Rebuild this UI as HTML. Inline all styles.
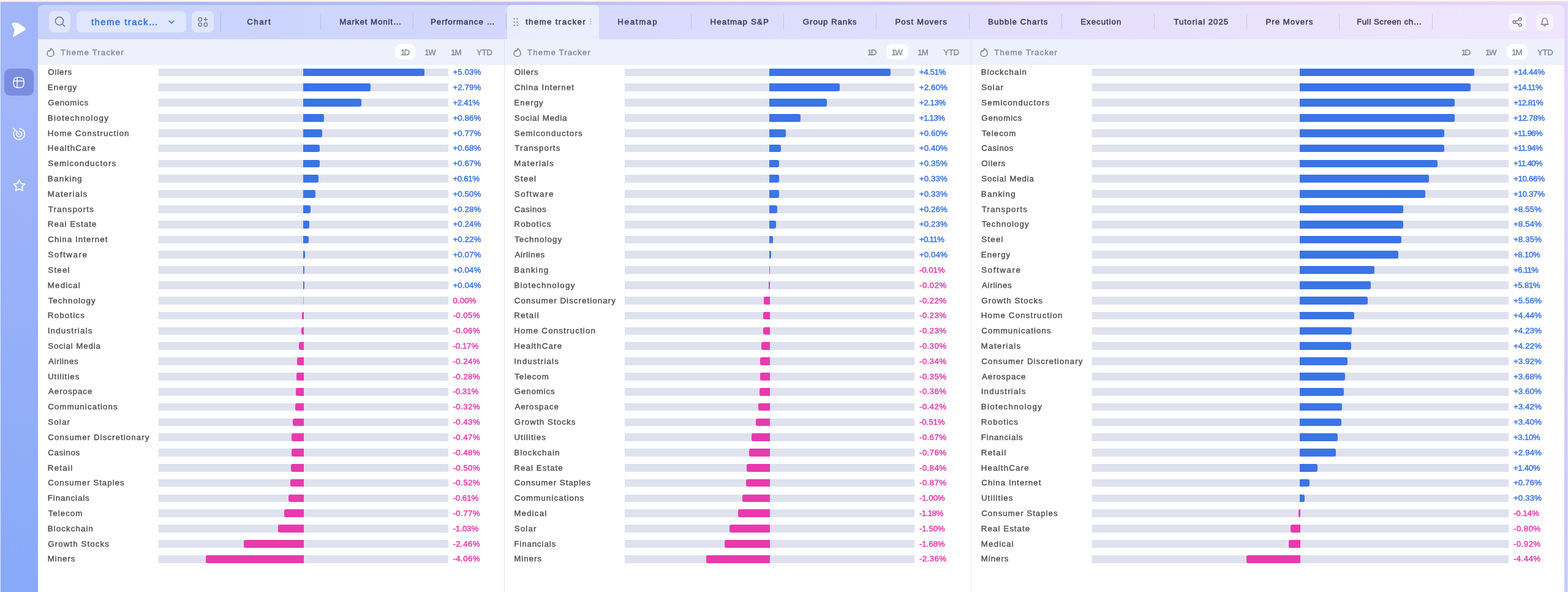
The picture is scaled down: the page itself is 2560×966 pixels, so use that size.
<!DOCTYPE html>
<html lang="en">
<head>
<meta charset="utf-8">
<title>Theme Tracker</title>
<style>
*{box-sizing:border-box;margin:0;padding:0}
html,body{width:2560px;height:966px;overflow:hidden}
body{position:relative;font-family:"Liberation Sans",sans-serif;background:#fff;color:#4c4c4e}
.bg{position:absolute;left:0;top:0;width:2560px;height:966px;background:linear-gradient(90deg,#a1b5fa 0,#a4b6fb 300px,#b4bcfb 800px,#c4c4fc 1220px,#d4cafb 1800px,#e2d3fc 2350px,#e4d5fc 2560px)}
.bgl{position:absolute;left:0;top:0;width:62px;height:966px;background:linear-gradient(180deg,rgba(105,155,246,0) 0,rgba(105,155,246,0) 160px,rgba(105,155,246,.45) 966px)}
.bgr{position:absolute;left:2554px;top:0;width:6px;height:966px;background:linear-gradient(180deg,rgba(175,190,250,0) 0,rgba(175,190,250,0) 120px,rgba(175,190,250,.55) 966px)}
.topstrip{position:absolute;left:0;top:0;width:2560px;height:4px;background:linear-gradient(180deg,#fffaf6 0,#fffaf6 1px,#fcefeb 1px,#fcefeb 2px,#f3dfe1 2px,#f3dfe1 3px,rgba(243,223,225,.3) 3px,rgba(243,223,225,.3) 4px)}
.edgeL{position:absolute;left:0;top:3px;width:1px;height:963px;background:#dfe8ff}
.edgeR{position:absolute;left:2559px;top:3px;width:1px;height:963px;background:#dbe4fe}
.side{position:absolute;left:0;top:0;width:62px;height:966px}
.nav-on{position:absolute;left:7.4px;top:112.4px;width:47.6px;height:43.2px;border-radius:9.5px;background:#7a8ddf}
.ico{position:absolute}
.app{position:absolute;left:61.6px;top:8px;width:2492.7px;height:958px;border-radius:8px 8px 0 0;overflow:hidden}
.pg{position:absolute;left:-61.6px;top:-8px;width:2560px;height:966px}
.bar{position:absolute;left:0;top:8px;width:2560px;height:56px;background:rgba(255,255,255,.41)}
.btn{position:absolute;top:18.1px;height:34.9px;border-radius:8px;background:rgba(255,255,255,.42)}
.btn svg,.rb svg{position:absolute}
.dd{color:#3f77e6;font-weight:400;font-size:14.8px;line-height:36.8px;white-space:nowrap;-webkit-text-stroke:.7px #3f77e6}
.dd span{position:absolute;top:0}
.tabs{position:absolute;left:0;top:0;width:2560px;height:64px}
.tab{position:absolute;top:8px;height:56px;white-space:nowrap;font-weight:400;font-size:13.3px;color:#363c5e;-webkit-text-stroke:.5px #363c5e;line-height:56.6px}
.tab .tl{position:absolute;top:0}
.tab.act{top:8.2px;height:55.8px;border-radius:7px 7px 0 0;background:rgba(240,242,253,.8);line-height:56.2px}
.drag{position:absolute;left:10.8px;top:21px}
.kebab{position:absolute;left:135.6px;top:22.2px}
.sep{position:absolute;top:22.5px;width:1px;height:26.5px;background:rgba(140,140,205,.3)}
.sep.s0{top:20px;height:31px;background:rgba(140,140,205,.4)}
.rb{position:absolute;top:21.6px;width:28.4px;height:28.6px;border-radius:8px;background:rgba(255,255,255,.5)}
.panels{position:absolute;left:0;top:64px;width:2560px;height:902px}
.panel{position:absolute;top:0;height:902px;background:#fff}
.ph{position:absolute;left:0;top:0;width:100%;height:41.6px;background:#eef0fc}
.flame{position:absolute;left:13.6px;top:13.6px}
.pt{position:absolute;top:.5px;line-height:41.5px;font-size:13.3px;font-weight:400;-webkit-text-stroke:.42px #858a9e;color:#858a9e;white-space:nowrap}
.pill{position:absolute;top:7.9px;height:25.3px;border-radius:9px;font-size:13.3px;line-height:27px;color:#80859a;-webkit-text-stroke:.35px #80859a;white-space:nowrap}
.pill b{position:absolute;top:0;font-weight:400}
.pill.on{background:#fff}
.rows{list-style:none;position:absolute;left:0;top:0;width:100%;height:100%}
.r{position:absolute;left:0;width:100%;height:12.7px;list-style:none}
.n{position:absolute;top:-6.4px;line-height:26.3px;font-size:13.3px;font-weight:400;-webkit-text-stroke:.42px #505052;color:#505052;white-space:nowrap}
.t{position:absolute;top:0;height:12.7px;background:#dfe1ee}
.b{position:absolute;top:0;height:12.7px;display:block}
.b.up{background:#3b74e6;border-radius:0 3px 3px 0}
.b.dn{background:#e83aad;border-radius:3px 0 0 3px}
.b.z{opacity:.45;border-radius:0}
.v{position:absolute;top:-6.4px;line-height:25.5px;font-size:13.4px;white-space:nowrap;-webkit-text-stroke:.45px}
.v.up{color:#3b74e6}
.v.dn{color:#e83aad}
.gap{position:absolute;top:0;width:1.5px;height:902px;background:#dae2f9}
.gl{position:absolute;top:41.6px;width:1px;height:818px;background:rgba(205,210,235,.16)}
</style>
</head>
<body>
<div class="bg"></div>
<div class="bgl"></div>
<div class="bgr"></div>
<div class="topstrip"></div>
<div class="edgeL"></div>
<div class="edgeR"></div>
<aside class="side">
<svg class="ico" style="left:0;top:0" viewBox="0 0 62 80" width="62" height="80"><path d="M19.5 40.6C18.6 38.2 20.3 36.4 22.8 36.8L27.5 37.1C29 37.3 30 38 31 38.6L39.6 44.3C42 46 42.3 48 40.5 49.6L23 59.8C21.8 60.5 20.8 59.8 21.2 58.4L23.9 49.8Z" fill="#fff"/><path d="M19.5 40.6C18.6 38.2 20.3 36.4 22.8 36.8L25.6 37L23.9 49.8Z" fill="#a0b4fa" fill-opacity=".22"/></svg>
<div class="nav-on"></div>
<svg class="ico" style="left:21.4px;top:124.6px" viewBox="0 0 20 20" width="19.2" height="19.2"><g fill="none" stroke="#fff" stroke-width="1.5" stroke-linecap="round" stroke-linejoin="round"><path d="M1.2 10c0-6.6 1.4-8.8 8.8-8.8s8.8 2.2 8.8 8.8-1.4 8.8-8.8 8.8S1.2 16.6 1.2 10z"/><path d="M1.5 7.6h17M7.3 1.5v17"/></g></svg>
<svg class="ico" style="left:0;top:200px" viewBox="0 200 62 40" width="62" height="40"><g fill="none" stroke="#fff" stroke-width="1.5" stroke-linecap="round"><path d="M31.83 209.72 A9.00 9.00 0 1 1 23.41 214.20"/><path d="M31.50 214.41 A4.30 4.30 0 1 1 27.16 217.23"/><path d="M21.60 209.00 L31.50 219.00"/></g></svg>
<svg class="ico" style="left:0;top:280px" viewBox="0 280 62 46" width="62" height="46"><path d="M31.40 293.80 L34.28 299.34 L40.44 300.36 L36.06 304.81 L36.98 310.99 L31.40 308.20 L25.82 310.99 L26.74 304.81 L22.36 300.36 L28.52 299.34Z" fill="none" stroke="#fff" stroke-width="1.8" stroke-linejoin="round"/></svg>
</aside>
<div class="app"><div class="pg">
<div class="bar"></div>
<div class="btn" style="left:79.9px;width:35.6px"><svg style="left:9px;top:8px" viewBox="0 0 20 20" width="20" height="20"><g fill="none" stroke="#6f7488" stroke-width="1.5" stroke-linecap="round"><circle cx="8" cy="8.4" r="6.6"/><path d="M12.9 13.3l4 4"/></g></svg></div>
<div class="btn dd" style="left:125px;width:179.4px"><span style="left:23.88px;letter-spacing:1.513px">theme track…</span><svg style="left:150.4px;top:14.6px" viewBox="0 0 10 6" width="10" height="6"><path d="M1 1l4 4 4-4" fill="none" stroke="#3f77e6" stroke-width="1.6" stroke-linecap="round" stroke-linejoin="round"/></svg></div>
<div class="btn" style="left:313px;width:35.8px"><svg style="left:9.6px;top:9.6px" viewBox="0 0 17 16" width="17" height="16"><g fill="none" stroke="#6f7488" stroke-width="1.4" stroke-linecap="round" stroke-linejoin="round"><rect x="1" y="1" width="5.4" height="5.4" rx="1.6"/><rect x="1" y="9.4" width="5.4" height="5.4" rx="2.2"/><rect x="10" y="9.4" width="5.4" height="5.4" rx="2.2"/><path d="M12.7 1v5.4M10 3.7h5.4"/></g></svg></div>
<div class="rb" style="left:2462.6px"><svg style="left:6.2px;top:6.4px" viewBox="0 0 17 16" width="17" height="16"><g fill="none" stroke="#6f7488" stroke-width="1.4"><circle cx="3.2" cy="8" r="2.2"/><circle cx="12.8" cy="3.2" r="2.2"/><circle cx="12.8" cy="12.8" r="2.2"/><path d="M5.2 7l5.6-2.8M5.2 9l5.6 2.8"/></g></svg></div>
<div class="rb" style="left:2508px"><svg style="left:7.4px;top:6.4px" viewBox="0 0 14 16" width="14" height="16"><g fill="none" stroke="#6f7488" stroke-width="1.4" stroke-linecap="round" stroke-linejoin="round"><path d="M1.2 11.8c1.2-1 1.6-2.4 1.6-4.6 0-3 1.6-5.6 4.2-5.6s4.2 2.600000000000001 4.2 5.600000000000001c0 2.2.4 3.6 1.6 4.6z"/><path d="M5.6 13.4a1.5 1.5 0 0 0 2.8 0"/></g></svg></div>

<nav class="tabs">
<div class="tab" style="left:372.56px;width:151.19px"><span class="tl" style="left:30.77px;letter-spacing:1.453px">Chart</span></div>
<div class="tab" style="left:523.75px;width:151.19px"><span class="tl" style="left:30.44px;letter-spacing:0.911px">Market Monit…</span></div>
<div class="tab" style="left:674.94px;width:151.19px"><span class="tl" style="left:28.00px;letter-spacing:0.974px">Performance …</span></div>
<div class="tab act" style="left:827.50px;width:150.60px"><svg class="drag" viewBox="0 0 8 14" width="8" height="14"><g fill="#6f7590"><circle cx="1.6" cy="1.6" r="1.1"/><circle cx="6.4" cy="1.6" r="1.1"/><circle cx="1.6" cy="7" r="1.1"/><circle cx="6.4" cy="7" r="1.1"/><circle cx="1.6" cy="12.4" r="1.1"/><circle cx="6.4" cy="12.4" r="1.1"/></g></svg><span class="tl" style="left:30.55px;letter-spacing:1.353px">theme tracker</span><svg class="kebab" viewBox="0 0 3 10" width="3" height="10"><g fill="#9aa0b8"><circle cx="1.5" cy="1.2" r="0.9"/><circle cx="1.5" cy="5" r="0.9"/><circle cx="1.5" cy="8.8" r="0.9"/></g></svg></div>
<div class="tab" style="left:977.32px;width:151.19px"><span class="tl" style="left:30.87px;letter-spacing:1.736px">Heatmap</span></div>
<div class="tab" style="left:1128.51px;width:151.19px"><span class="tl" style="left:30.93px;letter-spacing:1.107px">Heatmap S&amp;P</span></div>
<div class="tab" style="left:1279.70px;width:151.19px"><span class="tl" style="left:31.13px;letter-spacing:0.919px">Group Ranks</span></div>
<div class="tab" style="left:1430.89px;width:151.19px"><span class="tl" style="left:30.55px;letter-spacing:1.055px">Post Movers</span></div>
<div class="tab" style="left:1582.08px;width:151.19px"><span class="tl" style="left:30.86px;letter-spacing:1.106px">Bubble Charts</span></div>
<div class="tab" style="left:1733.27px;width:151.19px"><span class="tl" style="left:30.92px;letter-spacing:0.974px">Execution</span></div>
<div class="tab" style="left:1884.46px;width:151.19px"><span class="tl" style="left:32.02px;letter-spacing:0.971px">Tutorial 2025</span></div>
<div class="tab" style="left:2035.65px;width:151.19px"><span class="tl" style="left:30.79px;letter-spacing:0.989px">Pre Movers</span></div>
<div class="tab" style="left:2186.84px;width:151.19px"><span class="tl" style="left:28.35px;letter-spacing:0.534px">Full Screen ch…</span></div>
<i class="sep" style="left:523.25px"></i>
<i class="sep" style="left:674.44px"></i>
<i class="sep" style="left:825.63px"></i>
<i class="sep" style="left:1128.01px"></i>
<i class="sep" style="left:1279.20px"></i>
<i class="sep" style="left:1430.39px"></i>
<i class="sep" style="left:1581.58px"></i>
<i class="sep" style="left:1732.77px"></i>
<i class="sep" style="left:1883.96px"></i>
<i class="sep" style="left:2035.15px"></i>
<i class="sep" style="left:2186.34px"></i>
<i class="sep" style="left:2337.53px"></i>
<i class="sep s0" style="left:360.1px"></i>
</nav>
<main class="panels">
<section class="panel" style="left:62.00px;width:760.60px">
<header class="ph"><svg class="flame" viewBox="2.6 1.4 18.8 21.8" width="13" height="15"><path d="M12.6 2.6c.6 2.6-.6 4.3-2.1 5.9C8.9 10.200000000000001 7.6 9.1 7.4 7.7 5.2 9.9 4 12.4 4 14.7 4 18.9 7.6 22 12 22s8-3.1 8-7.3c0-4.9-3.300000000000001-9-7.4-12.1z" fill="none" stroke="#7e8499" stroke-width="2.3" stroke-linejoin="round"/></svg><h2 class="pt" style="left:37.04px;letter-spacing:1.097px">Theme Tracker</h2>
<nav class="tf">
<span class="pill on" style="left:583.20px;width:32.40px"><b style="left:8.78px;letter-spacing:-1.912px">1D</b></span>
<span class="pill" style="left:623.10px;width:35.50px"><b style="left:8.08px;letter-spacing:-1.436px">1W</b></span>
<span class="pill" style="left:665.60px;width:34.25px"><b style="left:8.38px;letter-spacing:-0.909px">1M</b></span>
<span class="pill" style="left:707.00px;width:43.60px"><b style="left:9.04px;letter-spacing:-0.410px">YTD</b></span>
</nav></header>
<i class="gl" style="left:196.40px"></i>
<ul class="rows">
<li class="r" style="top:47.65px"><span class="n" style="left:16.31px;letter-spacing:0.826px">Oilers</span><span class="t" style="left:196.60px;width:473.10px"></span><i class="b up" style="left:432.65px;width:198.12px"></i><span class="v up" style="left:677.45px;letter-spacing:0.057px">+5.03%</span></li>
<li class="r" style="top:72.47px"><span class="n" style="left:15.85px;letter-spacing:1.057px">Energy</span><span class="t" style="left:196.60px;width:473.10px"></span><i class="b up" style="left:432.65px;width:110.34px"></i><span class="v up" style="left:677.45px;letter-spacing:0.057px">+2.79%</span></li>
<li class="r" style="top:97.29px"><span class="n" style="left:16.25px;letter-spacing:0.880px">Genomics</span><span class="t" style="left:196.60px;width:473.10px"></span><i class="b up" style="left:432.65px;width:95.45px"></i><span class="v up" style="left:677.45px;letter-spacing:-0.423px">+2.41%</span></li>
<li class="r" style="top:122.11px"><span class="n" style="left:15.85px;letter-spacing:1.285px">Biotechnology</span><span class="t" style="left:196.60px;width:473.10px"></span><i class="b up" style="left:432.65px;width:34.70px"></i><span class="v up" style="left:677.45px;letter-spacing:0.057px">+0.86%</span></li>
<li class="r" style="top:146.93px"><span class="n" style="left:15.85px;letter-spacing:1.173px">Home Construction</span><span class="t" style="left:196.60px;width:473.10px"></span><i class="b up" style="left:432.65px;width:31.18px"></i><span class="v up" style="left:677.45px;letter-spacing:0.057px">+0.77%</span></li>
<li class="r" style="top:171.75px"><span class="n" style="left:15.85px;letter-spacing:1.168px">HealthCare</span><span class="t" style="left:196.60px;width:473.10px"></span><i class="b up" style="left:432.65px;width:27.65px"></i><span class="v up" style="left:677.45px;letter-spacing:0.057px">+0.68%</span></li>
<li class="r" style="top:196.57px"><span class="n" style="left:16.31px;letter-spacing:1.199px">Semiconductors</span><span class="t" style="left:196.60px;width:473.10px"></span><i class="b up" style="left:432.65px;width:27.26px"></i><span class="v up" style="left:677.45px;letter-spacing:0.057px">+0.67%</span></li>
<li class="r" style="top:221.39px"><span class="n" style="left:15.85px;letter-spacing:1.305px">Banking</span><span class="t" style="left:196.60px;width:473.10px"></span><i class="b up" style="left:432.65px;width:24.91px"></i><span class="v up" style="left:677.45px;letter-spacing:-0.423px">+0.61%</span></li>
<li class="r" style="top:246.21px"><span class="n" style="left:15.85px;letter-spacing:1.310px">Materials</span><span class="t" style="left:196.60px;width:473.10px"></span><i class="b up" style="left:432.65px;width:20.59px"></i><span class="v up" style="left:677.45px;letter-spacing:0.057px">+0.50%</span></li>
<li class="r" style="top:271.03px"><span class="n" style="left:16.64px;letter-spacing:1.252px">Transports</span><span class="t" style="left:196.60px;width:473.10px"></span><i class="b up" style="left:432.65px;width:11.97px"></i><span class="v up" style="left:677.45px;letter-spacing:0.057px">+0.28%</span></li>
<li class="r" style="top:295.85px"><span class="n" style="left:15.85px;letter-spacing:1.068px">Real Estate</span><span class="t" style="left:196.60px;width:473.10px"></span><i class="b up" style="left:432.65px;width:10.41px"></i><span class="v up" style="left:677.45px;letter-spacing:0.057px">+0.24%</span></li>
<li class="r" style="top:320.67px"><span class="n" style="left:16.25px;letter-spacing:1.045px">China Internet</span><span class="t" style="left:196.60px;width:473.10px"></span><i class="b up" style="left:432.65px;width:9.62px"></i><span class="v up" style="left:677.45px;letter-spacing:0.057px">+0.22%</span></li>
<li class="r" style="top:345.49px"><span class="n" style="left:16.31px;letter-spacing:1.601px">Software</span><span class="t" style="left:196.60px;width:473.10px"></span><i class="b up" style="left:432.65px;width:3.74px"></i><span class="v up" style="left:677.45px;letter-spacing:0.057px">+0.07%</span></li>
<li class="r" style="top:370.31px"><span class="n" style="left:16.31px;letter-spacing:1.221px">Steel</span><span class="t" style="left:196.60px;width:473.10px"></span><i class="b up" style="left:432.65px;width:2.57px"></i><span class="v up" style="left:677.45px;letter-spacing:0.057px">+0.04%</span></li>
<li class="r" style="top:395.13px"><span class="n" style="left:15.85px;letter-spacing:1.165px">Medical</span><span class="t" style="left:196.60px;width:473.10px"></span><i class="b up" style="left:432.65px;width:2.57px"></i><span class="v up" style="left:677.45px;letter-spacing:0.057px">+0.04%</span></li>
<li class="r" style="top:419.95px"><span class="n" style="left:16.64px;letter-spacing:1.072px">Technology</span><span class="t" style="left:196.60px;width:473.10px"></span><i class="b dn z" style="left:433.15px;width:1px"></i><span class="v dn" style="left:677.59px;letter-spacing:0.056px">0.00%</span></li>
<li class="r" style="top:444.77px"><span class="n" style="left:15.85px;letter-spacing:1.182px">Robotics</span><span class="t" style="left:196.60px;width:473.10px"></span><i class="b dn" style="left:430.69px;width:2.96px"></i><span class="v dn" style="left:677.52px;letter-spacing:0.352px">-0.05%</span></li>
<li class="r" style="top:469.59px"><span class="n" style="left:15.71px;letter-spacing:1.209px">Industrials</span><span class="t" style="left:196.60px;width:473.10px"></span><i class="b dn" style="left:430.30px;width:3.35px"></i><span class="v dn" style="left:677.52px;letter-spacing:0.352px">-0.06%</span></li>
<li class="r" style="top:494.41px"><span class="n" style="left:16.31px;letter-spacing:0.858px">Social Media</span><span class="t" style="left:196.60px;width:473.10px"></span><i class="b dn" style="left:425.99px;width:7.66px"></i><span class="v dn" style="left:677.52px;letter-spacing:-0.128px">-0.17%</span></li>
<li class="r" style="top:519.23px"><span class="n" style="left:16.91px;letter-spacing:0.746px">Airlines</span><span class="t" style="left:196.60px;width:473.10px"></span><i class="b dn" style="left:423.24px;width:10.41px"></i><span class="v dn" style="left:677.52px;letter-spacing:0.352px">-0.24%</span></li>
<li class="r" style="top:544.05px"><span class="n" style="left:15.91px;letter-spacing:1.094px">Utilities</span><span class="t" style="left:196.60px;width:473.10px"></span><i class="b dn" style="left:421.68px;width:11.97px"></i><span class="v dn" style="left:677.52px;letter-spacing:0.352px">-0.28%</span></li>
<li class="r" style="top:568.87px"><span class="n" style="left:16.91px;letter-spacing:0.988px">Aerospace</span><span class="t" style="left:196.60px;width:473.10px"></span><i class="b dn" style="left:420.50px;width:13.15px"></i><span class="v dn" style="left:677.52px;letter-spacing:-0.128px">-0.31%</span></li>
<li class="r" style="top:593.69px"><span class="n" style="left:16.25px;letter-spacing:1.110px">Communications</span><span class="t" style="left:196.60px;width:473.10px"></span><i class="b dn" style="left:420.11px;width:13.54px"></i><span class="v dn" style="left:677.52px;letter-spacing:0.352px">-0.32%</span></li>
<li class="r" style="top:618.51px"><span class="n" style="left:16.31px;letter-spacing:1.122px">Solar</span><span class="t" style="left:196.60px;width:473.10px"></span><i class="b dn" style="left:415.80px;width:17.85px"></i><span class="v dn" style="left:677.52px;letter-spacing:0.352px">-0.43%</span></li>
<li class="r" style="top:643.33px"><span class="n" style="left:16.25px;letter-spacing:1.072px">Consumer Discretionary</span><span class="t" style="left:196.60px;width:473.10px"></span><i class="b dn" style="left:414.23px;width:19.42px"></i><span class="v dn" style="left:677.52px;letter-spacing:0.352px">-0.47%</span></li>
<li class="r" style="top:668.15px"><span class="n" style="left:16.25px;letter-spacing:0.655px">Casinos</span><span class="t" style="left:196.60px;width:473.10px"></span><i class="b dn" style="left:413.84px;width:19.81px"></i><span class="v dn" style="left:677.52px;letter-spacing:0.352px">-0.48%</span></li>
<li class="r" style="top:692.97px"><span class="n" style="left:15.85px;letter-spacing:1.265px">Retail</span><span class="t" style="left:196.60px;width:473.10px"></span><i class="b dn" style="left:413.06px;width:20.59px"></i><span class="v dn" style="left:677.52px;letter-spacing:0.352px">-0.50%</span></li>
<li class="r" style="top:717.79px"><span class="n" style="left:16.25px;letter-spacing:1.001px">Consumer Staples</span><span class="t" style="left:196.60px;width:473.10px"></span><i class="b dn" style="left:412.27px;width:21.38px"></i><span class="v dn" style="left:677.52px;letter-spacing:0.352px">-0.52%</span></li>
<li class="r" style="top:742.61px"><span class="n" style="left:15.85px;letter-spacing:0.895px">Financials</span><span class="t" style="left:196.60px;width:473.10px"></span><i class="b dn" style="left:408.74px;width:24.91px"></i><span class="v dn" style="left:677.52px;letter-spacing:-0.128px">-0.61%</span></li>
<li class="r" style="top:767.43px"><span class="n" style="left:16.64px;letter-spacing:1.028px">Telecom</span><span class="t" style="left:196.60px;width:473.10px"></span><i class="b dn" style="left:402.47px;width:31.18px"></i><span class="v dn" style="left:677.52px;letter-spacing:0.352px">-0.77%</span></li>
<li class="r" style="top:792.25px"><span class="n" style="left:15.85px;letter-spacing:1.089px">Blockchain</span><span class="t" style="left:196.60px;width:473.10px"></span><i class="b dn" style="left:392.28px;width:41.37px"></i><span class="v dn" style="left:677.52px;letter-spacing:-0.128px">-1.03%</span></li>
<li class="r" style="top:817.07px"><span class="n" style="left:16.25px;letter-spacing:1.097px">Growth Stocks</span><span class="t" style="left:196.60px;width:473.10px"></span><i class="b dn" style="left:336.24px;width:97.41px"></i><span class="v dn" style="left:677.52px;letter-spacing:0.352px">-2.46%</span></li>
<li class="r" style="top:841.89px"><span class="n" style="left:15.85px;letter-spacing:0.942px">Miners</span><span class="t" style="left:196.60px;width:473.10px"></span><i class="b dn" style="left:273.54px;width:160.11px"></i><span class="v dn" style="left:677.52px;letter-spacing:0.352px">-4.06%</span></li>
</ul></section>
<i class="gap" style="left:822.6px"></i>
<section class="panel" style="left:824.00px;width:760.80px">
<header class="ph"><svg class="flame" viewBox="2.6 1.4 18.8 21.8" width="13" height="15"><path d="M12.6 2.6c.6 2.6-.6 4.3-2.1 5.9C8.9 10.200000000000001 7.6 9.1 7.4 7.7 5.2 9.9 4 12.4 4 14.7 4 18.9 7.6 22 12 22s8-3.1 8-7.3c0-4.9-3.300000000000001-9-7.4-12.1z" fill="none" stroke="#7e8499" stroke-width="2.3" stroke-linejoin="round"/></svg><h2 class="pt" style="left:37.04px;letter-spacing:1.097px">Theme Tracker</h2>
<nav class="tf">
<span class="pill" style="left:583.40px;width:32.40px"><b style="left:8.78px;letter-spacing:-1.912px">1D</b></span>
<span class="pill on" style="left:623.30px;width:35.50px"><b style="left:8.08px;letter-spacing:-1.436px">1W</b></span>
<span class="pill" style="left:665.80px;width:34.25px"><b style="left:8.38px;letter-spacing:-0.909px">1M</b></span>
<span class="pill" style="left:707.20px;width:43.60px"><b style="left:9.04px;letter-spacing:-0.410px">YTD</b></span>
</nav></header>
<i class="gl" style="left:196.00px"></i>
<ul class="rows">
<li class="r" style="top:47.65px"><span class="n" style="left:15.81px;letter-spacing:0.826px">Oilers</span><span class="t" style="left:196.20px;width:472.90px"></span><i class="b up" style="left:432.15px;width:198.04px"></i><span class="v up" style="left:676.85px;letter-spacing:-0.423px">+4.51%</span></li>
<li class="r" style="top:72.47px"><span class="n" style="left:15.75px;letter-spacing:1.045px">China Internet</span><span class="t" style="left:196.20px;width:472.90px"></span><i class="b up" style="left:432.15px;width:114.59px"></i><span class="v up" style="left:676.85px;letter-spacing:0.057px">+2.60%</span></li>
<li class="r" style="top:97.29px"><span class="n" style="left:15.35px;letter-spacing:1.057px">Energy</span><span class="t" style="left:196.20px;width:472.90px"></span><i class="b up" style="left:432.15px;width:94.06px"></i><span class="v up" style="left:676.85px;letter-spacing:-0.423px">+2.13%</span></li>
<li class="r" style="top:122.11px"><span class="n" style="left:15.81px;letter-spacing:0.858px">Social Media</span><span class="t" style="left:196.20px;width:472.90px"></span><i class="b up" style="left:432.15px;width:50.37px"></i><span class="v up" style="left:676.85px;letter-spacing:-0.750px">+1.13%</span></li>
<li class="r" style="top:146.93px"><span class="n" style="left:15.81px;letter-spacing:1.199px">Semiconductors</span><span class="t" style="left:196.20px;width:472.90px"></span><i class="b up" style="left:432.15px;width:27.21px"></i><span class="v up" style="left:676.85px;letter-spacing:0.057px">+0.60%</span></li>
<li class="r" style="top:171.75px"><span class="n" style="left:16.14px;letter-spacing:1.252px">Transports</span><span class="t" style="left:196.20px;width:472.90px"></span><i class="b up" style="left:432.15px;width:18.48px"></i><span class="v up" style="left:676.85px;letter-spacing:0.057px">+0.40%</span></li>
<li class="r" style="top:196.57px"><span class="n" style="left:15.35px;letter-spacing:1.310px">Materials</span><span class="t" style="left:196.20px;width:472.90px"></span><i class="b up" style="left:432.15px;width:16.29px"></i><span class="v up" style="left:676.85px;letter-spacing:0.057px">+0.35%</span></li>
<li class="r" style="top:221.39px"><span class="n" style="left:15.81px;letter-spacing:1.221px">Steel</span><span class="t" style="left:196.20px;width:472.90px"></span><i class="b up" style="left:432.15px;width:15.42px"></i><span class="v up" style="left:676.85px;letter-spacing:0.057px">+0.33%</span></li>
<li class="r" style="top:246.21px"><span class="n" style="left:15.81px;letter-spacing:1.601px">Software</span><span class="t" style="left:196.20px;width:472.90px"></span><i class="b up" style="left:432.15px;width:15.42px"></i><span class="v up" style="left:676.85px;letter-spacing:0.057px">+0.33%</span></li>
<li class="r" style="top:271.03px"><span class="n" style="left:15.75px;letter-spacing:0.655px">Casinos</span><span class="t" style="left:196.20px;width:472.90px"></span><i class="b up" style="left:432.15px;width:12.36px"></i><span class="v up" style="left:676.85px;letter-spacing:0.057px">+0.26%</span></li>
<li class="r" style="top:295.85px"><span class="n" style="left:15.35px;letter-spacing:1.182px">Robotics</span><span class="t" style="left:196.20px;width:472.90px"></span><i class="b up" style="left:432.15px;width:11.05px"></i><span class="v up" style="left:676.85px;letter-spacing:0.057px">+0.23%</span></li>
<li class="r" style="top:320.67px"><span class="n" style="left:16.14px;letter-spacing:1.072px">Technology</span><span class="t" style="left:196.20px;width:472.90px"></span><i class="b up" style="left:432.15px;width:5.81px"></i><span class="v up" style="left:676.85px;letter-spacing:-0.750px">+0.11%</span></li>
<li class="r" style="top:345.49px"><span class="n" style="left:16.41px;letter-spacing:0.746px">Airlines</span><span class="t" style="left:196.20px;width:472.90px"></span><i class="b up" style="left:432.15px;width:2.75px"></i><span class="v up" style="left:676.85px;letter-spacing:0.057px">+0.04%</span></li>
<li class="r" style="top:370.31px"><span class="n" style="left:15.35px;letter-spacing:1.305px">Banking</span><span class="t" style="left:196.20px;width:472.90px"></span><i class="b dn" style="left:431.71px;width:1.44px"></i><span class="v dn" style="left:676.92px;letter-spacing:-0.128px">-0.01%</span></li>
<li class="r" style="top:395.13px"><span class="n" style="left:15.35px;letter-spacing:1.285px">Biotechnology</span><span class="t" style="left:196.20px;width:472.90px"></span><i class="b dn" style="left:431.28px;width:1.87px"></i><span class="v dn" style="left:676.92px;letter-spacing:0.352px">-0.02%</span></li>
<li class="r" style="top:419.95px"><span class="n" style="left:15.75px;letter-spacing:1.072px">Consumer Discretionary</span><span class="t" style="left:196.20px;width:472.90px"></span><i class="b dn" style="left:422.54px;width:10.61px"></i><span class="v dn" style="left:676.92px;letter-spacing:0.352px">-0.22%</span></li>
<li class="r" style="top:444.77px"><span class="n" style="left:15.35px;letter-spacing:1.265px">Retail</span><span class="t" style="left:196.20px;width:472.90px"></span><i class="b dn" style="left:422.10px;width:11.05px"></i><span class="v dn" style="left:676.92px;letter-spacing:0.352px">-0.23%</span></li>
<li class="r" style="top:469.59px"><span class="n" style="left:15.35px;letter-spacing:1.173px">Home Construction</span><span class="t" style="left:196.20px;width:472.90px"></span><i class="b dn" style="left:422.10px;width:11.05px"></i><span class="v dn" style="left:676.92px;letter-spacing:0.352px">-0.23%</span></li>
<li class="r" style="top:494.41px"><span class="n" style="left:15.35px;letter-spacing:1.168px">HealthCare</span><span class="t" style="left:196.20px;width:472.90px"></span><i class="b dn" style="left:419.04px;width:14.11px"></i><span class="v dn" style="left:676.92px;letter-spacing:0.352px">-0.30%</span></li>
<li class="r" style="top:519.23px"><span class="n" style="left:15.21px;letter-spacing:1.209px">Industrials</span><span class="t" style="left:196.20px;width:472.90px"></span><i class="b dn" style="left:417.30px;width:15.85px"></i><span class="v dn" style="left:676.92px;letter-spacing:0.352px">-0.34%</span></li>
<li class="r" style="top:544.05px"><span class="n" style="left:16.14px;letter-spacing:1.028px">Telecom</span><span class="t" style="left:196.20px;width:472.90px"></span><i class="b dn" style="left:416.86px;width:16.29px"></i><span class="v dn" style="left:676.92px;letter-spacing:0.352px">-0.35%</span></li>
<li class="r" style="top:568.87px"><span class="n" style="left:15.75px;letter-spacing:0.880px">Genomics</span><span class="t" style="left:196.20px;width:472.90px"></span><i class="b dn" style="left:416.42px;width:16.73px"></i><span class="v dn" style="left:676.92px;letter-spacing:0.352px">-0.36%</span></li>
<li class="r" style="top:593.69px"><span class="n" style="left:16.41px;letter-spacing:0.988px">Aerospace</span><span class="t" style="left:196.20px;width:472.90px"></span><i class="b dn" style="left:413.80px;width:19.35px"></i><span class="v dn" style="left:676.92px;letter-spacing:0.352px">-0.42%</span></li>
<li class="r" style="top:618.51px"><span class="n" style="left:15.75px;letter-spacing:1.097px">Growth Stocks</span><span class="t" style="left:196.20px;width:472.90px"></span><i class="b dn" style="left:409.87px;width:23.28px"></i><span class="v dn" style="left:676.92px;letter-spacing:-0.128px">-0.51%</span></li>
<li class="r" style="top:643.33px"><span class="n" style="left:15.41px;letter-spacing:1.094px">Utilities</span><span class="t" style="left:196.20px;width:472.90px"></span><i class="b dn" style="left:402.88px;width:30.27px"></i><span class="v dn" style="left:676.92px;letter-spacing:0.352px">-0.67%</span></li>
<li class="r" style="top:668.15px"><span class="n" style="left:15.35px;letter-spacing:1.089px">Blockchain</span><span class="t" style="left:196.20px;width:472.90px"></span><i class="b dn" style="left:398.95px;width:34.20px"></i><span class="v dn" style="left:676.92px;letter-spacing:0.352px">-0.76%</span></li>
<li class="r" style="top:692.97px"><span class="n" style="left:15.35px;letter-spacing:1.068px">Real Estate</span><span class="t" style="left:196.20px;width:472.90px"></span><i class="b dn" style="left:395.45px;width:37.70px"></i><span class="v dn" style="left:676.92px;letter-spacing:0.352px">-0.84%</span></li>
<li class="r" style="top:717.79px"><span class="n" style="left:15.75px;letter-spacing:1.001px">Consumer Staples</span><span class="t" style="left:196.20px;width:472.90px"></span><i class="b dn" style="left:394.14px;width:39.01px"></i><span class="v dn" style="left:676.92px;letter-spacing:0.352px">-0.87%</span></li>
<li class="r" style="top:742.61px"><span class="n" style="left:15.75px;letter-spacing:1.110px">Communications</span><span class="t" style="left:196.20px;width:472.90px"></span><i class="b dn" style="left:388.46px;width:44.69px"></i><span class="v dn" style="left:676.92px;letter-spacing:-0.128px">-1.00%</span></li>
<li class="r" style="top:767.43px"><span class="n" style="left:15.35px;letter-spacing:1.165px">Medical</span><span class="t" style="left:196.20px;width:472.90px"></span><i class="b dn" style="left:380.60px;width:52.55px"></i><span class="v dn" style="left:676.92px;letter-spacing:-0.608px">-1.18%</span></li>
<li class="r" style="top:792.25px"><span class="n" style="left:15.81px;letter-spacing:1.122px">Solar</span><span class="t" style="left:196.20px;width:472.90px"></span><i class="b dn" style="left:366.62px;width:66.53px"></i><span class="v dn" style="left:676.92px;letter-spacing:-0.128px">-1.50%</span></li>
<li class="r" style="top:817.07px"><span class="n" style="left:15.35px;letter-spacing:0.895px">Financials</span><span class="t" style="left:196.20px;width:472.90px"></span><i class="b dn" style="left:358.75px;width:74.40px"></i><span class="v dn" style="left:676.92px;letter-spacing:-0.128px">-1.68%</span></li>
<li class="r" style="top:841.89px"><span class="n" style="left:15.35px;letter-spacing:0.942px">Miners</span><span class="t" style="left:196.20px;width:472.90px"></span><i class="b dn" style="left:329.04px;width:104.11px"></i><span class="v dn" style="left:676.92px;letter-spacing:0.352px">-2.36%</span></li>
</ul></section>
<i class="gap" style="left:1584.8px"></i>
<section class="panel" style="left:1586.20px;width:968.40px">
<header class="ph"><svg class="flame" viewBox="2.6 1.4 18.8 21.8" width="13" height="15"><path d="M12.6 2.6c.6 2.6-.6 4.3-2.1 5.9C8.9 10.200000000000001 7.6 9.1 7.4 7.7 5.2 9.9 4 12.4 4 14.7 4 18.9 7.6 22 12 22s8-3.1 8-7.3c0-4.9-3.300000000000001-9-7.4-12.1z" fill="none" stroke="#7e8499" stroke-width="2.3" stroke-linejoin="round"/></svg><h2 class="pt" style="left:37.04px;letter-spacing:1.097px">Theme Tracker</h2>
<nav class="tf">
<span class="pill" style="left:791.00px;width:32.40px"><b style="left:8.78px;letter-spacing:-1.912px">1D</b></span>
<span class="pill" style="left:830.90px;width:35.50px"><b style="left:8.08px;letter-spacing:-1.436px">1W</b></span>
<span class="pill on" style="left:873.40px;width:34.25px"><b style="left:8.38px;letter-spacing:-0.909px">1M</b></span>
<span class="pill" style="left:914.80px;width:43.60px"><b style="left:9.04px;letter-spacing:-0.410px">YTD</b></span>
</nav></header>
<i class="gl" style="left:196.20px"></i>
<ul class="rows">
<li class="r" style="top:47.65px"><span class="n" style="left:15.65px;letter-spacing:1.089px">Blockchain</span><span class="t" style="left:196.40px;width:680.80px"></span><i class="b up" style="left:536.30px;width:284.67px"></i><span class="v up" style="left:884.75px;letter-spacing:-0.344px">+14.44%</span></li>
<li class="r" style="top:72.47px"><span class="n" style="left:16.11px;letter-spacing:1.122px">Solar</span><span class="t" style="left:196.40px;width:680.80px"></span><i class="b up" style="left:536.30px;width:278.18px"></i><span class="v up" style="left:884.75px;letter-spacing:-0.750px">+14.11%</span></li>
<li class="r" style="top:97.29px"><span class="n" style="left:16.11px;letter-spacing:1.199px">Semiconductors</span><span class="t" style="left:196.40px;width:680.80px"></span><i class="b up" style="left:536.30px;width:252.65px"></i><span class="v up" style="left:884.75px;letter-spacing:-0.744px">+12.81%</span></li>
<li class="r" style="top:122.11px"><span class="n" style="left:16.05px;letter-spacing:0.880px">Genomics</span><span class="t" style="left:196.40px;width:680.80px"></span><i class="b up" style="left:536.30px;width:252.06px"></i><span class="v up" style="left:884.75px;letter-spacing:-0.344px">+12.78%</span></li>
<li class="r" style="top:146.93px"><span class="n" style="left:16.44px;letter-spacing:1.028px">Telecom</span><span class="t" style="left:196.40px;width:680.80px"></span><i class="b up" style="left:536.30px;width:235.95px"></i><span class="v up" style="left:884.75px;letter-spacing:-0.745px">+11.96%</span></li>
<li class="r" style="top:171.75px"><span class="n" style="left:16.05px;letter-spacing:0.655px">Casinos</span><span class="t" style="left:196.40px;width:680.80px"></span><i class="b up" style="left:536.30px;width:235.56px"></i><span class="v up" style="left:884.75px;letter-spacing:-0.745px">+11.94%</span></li>
<li class="r" style="top:196.57px"><span class="n" style="left:16.11px;letter-spacing:0.826px">Oilers</span><span class="t" style="left:196.40px;width:680.80px"></span><i class="b up" style="left:536.30px;width:224.95px"></i><span class="v up" style="left:884.75px;letter-spacing:-0.745px">+11.40%</span></li>
<li class="r" style="top:221.39px"><span class="n" style="left:16.11px;letter-spacing:0.858px">Social Media</span><span class="t" style="left:196.40px;width:680.80px"></span><i class="b up" style="left:536.30px;width:210.41px"></i><span class="v up" style="left:884.75px;letter-spacing:-0.344px">+10.66%</span></li>
<li class="r" style="top:246.21px"><span class="n" style="left:15.65px;letter-spacing:1.305px">Banking</span><span class="t" style="left:196.40px;width:680.80px"></span><i class="b up" style="left:536.30px;width:204.71px"></i><span class="v up" style="left:884.75px;letter-spacing:-0.344px">+10.37%</span></li>
<li class="r" style="top:271.03px"><span class="n" style="left:16.44px;letter-spacing:1.252px">Transports</span><span class="t" style="left:196.40px;width:680.80px"></span><i class="b up" style="left:536.30px;width:168.96px"></i><span class="v up" style="left:884.75px;letter-spacing:0.057px">+8.55%</span></li>
<li class="r" style="top:295.85px"><span class="n" style="left:16.44px;letter-spacing:1.072px">Technology</span><span class="t" style="left:196.40px;width:680.80px"></span><i class="b up" style="left:536.30px;width:168.76px"></i><span class="v up" style="left:884.75px;letter-spacing:0.057px">+8.54%</span></li>
<li class="r" style="top:320.67px"><span class="n" style="left:16.11px;letter-spacing:1.221px">Steel</span><span class="t" style="left:196.40px;width:680.80px"></span><i class="b up" style="left:536.30px;width:165.03px"></i><span class="v up" style="left:884.75px;letter-spacing:0.057px">+8.35%</span></li>
<li class="r" style="top:345.49px"><span class="n" style="left:15.65px;letter-spacing:1.057px">Energy</span><span class="t" style="left:196.40px;width:680.80px"></span><i class="b up" style="left:536.30px;width:160.12px"></i><span class="v up" style="left:884.75px;letter-spacing:-0.423px">+8.10%</span></li>
<li class="r" style="top:370.31px"><span class="n" style="left:16.11px;letter-spacing:1.601px">Software</span><span class="t" style="left:196.40px;width:680.80px"></span><i class="b up" style="left:536.30px;width:121.03px"></i><span class="v up" style="left:884.75px;letter-spacing:-0.750px">+6.11%</span></li>
<li class="r" style="top:395.13px"><span class="n" style="left:16.71px;letter-spacing:0.746px">Airlines</span><span class="t" style="left:196.40px;width:680.80px"></span><i class="b up" style="left:536.30px;width:115.13px"></i><span class="v up" style="left:884.75px;letter-spacing:-0.423px">+5.81%</span></li>
<li class="r" style="top:419.95px"><span class="n" style="left:16.05px;letter-spacing:1.097px">Growth Stocks</span><span class="t" style="left:196.40px;width:680.80px"></span><i class="b up" style="left:536.30px;width:110.22px"></i><span class="v up" style="left:884.75px;letter-spacing:0.057px">+5.56%</span></li>
<li class="r" style="top:444.77px"><span class="n" style="left:15.65px;letter-spacing:1.173px">Home Construction</span><span class="t" style="left:196.40px;width:680.80px"></span><i class="b up" style="left:536.30px;width:88.22px"></i><span class="v up" style="left:884.75px;letter-spacing:0.057px">+4.44%</span></li>
<li class="r" style="top:469.59px"><span class="n" style="left:16.05px;letter-spacing:1.110px">Communications</span><span class="t" style="left:196.40px;width:680.80px"></span><i class="b up" style="left:536.30px;width:84.10px"></i><span class="v up" style="left:884.75px;letter-spacing:0.057px">+4.23%</span></li>
<li class="r" style="top:494.41px"><span class="n" style="left:15.65px;letter-spacing:1.310px">Materials</span><span class="t" style="left:196.40px;width:680.80px"></span><i class="b up" style="left:536.30px;width:83.90px"></i><span class="v up" style="left:884.75px;letter-spacing:0.057px">+4.22%</span></li>
<li class="r" style="top:519.23px"><span class="n" style="left:16.05px;letter-spacing:1.072px">Consumer Discretionary</span><span class="t" style="left:196.40px;width:680.80px"></span><i class="b up" style="left:536.30px;width:78.01px"></i><span class="v up" style="left:884.75px;letter-spacing:0.057px">+3.92%</span></li>
<li class="r" style="top:544.05px"><span class="n" style="left:16.71px;letter-spacing:0.988px">Aerospace</span><span class="t" style="left:196.40px;width:680.80px"></span><i class="b up" style="left:536.30px;width:73.29px"></i><span class="v up" style="left:884.75px;letter-spacing:0.057px">+3.68%</span></li>
<li class="r" style="top:568.87px"><span class="n" style="left:15.51px;letter-spacing:1.209px">Industrials</span><span class="t" style="left:196.40px;width:680.80px"></span><i class="b up" style="left:536.30px;width:71.72px"></i><span class="v up" style="left:884.75px;letter-spacing:0.057px">+3.60%</span></li>
<li class="r" style="top:593.69px"><span class="n" style="left:15.65px;letter-spacing:1.285px">Biotechnology</span><span class="t" style="left:196.40px;width:680.80px"></span><i class="b up" style="left:536.30px;width:68.18px"></i><span class="v up" style="left:884.75px;letter-spacing:0.057px">+3.42%</span></li>
<li class="r" style="top:618.51px"><span class="n" style="left:15.65px;letter-spacing:1.182px">Robotics</span><span class="t" style="left:196.40px;width:680.80px"></span><i class="b up" style="left:536.30px;width:67.79px"></i><span class="v up" style="left:884.75px;letter-spacing:0.057px">+3.40%</span></li>
<li class="r" style="top:643.33px"><span class="n" style="left:15.65px;letter-spacing:0.895px">Financials</span><span class="t" style="left:196.40px;width:680.80px"></span><i class="b up" style="left:536.30px;width:61.90px"></i><span class="v up" style="left:884.75px;letter-spacing:-0.423px">+3.10%</span></li>
<li class="r" style="top:668.15px"><span class="n" style="left:15.65px;letter-spacing:1.265px">Retail</span><span class="t" style="left:196.40px;width:680.80px"></span><i class="b up" style="left:536.30px;width:58.75px"></i><span class="v up" style="left:884.75px;letter-spacing:0.057px">+2.94%</span></li>
<li class="r" style="top:692.97px"><span class="n" style="left:15.65px;letter-spacing:1.168px">HealthCare</span><span class="t" style="left:196.40px;width:680.80px"></span><i class="b up" style="left:536.30px;width:28.50px"></i><span class="v up" style="left:884.75px;letter-spacing:-0.423px">+1.40%</span></li>
<li class="r" style="top:717.79px"><span class="n" style="left:16.05px;letter-spacing:1.045px">China Internet</span><span class="t" style="left:196.40px;width:680.80px"></span><i class="b up" style="left:536.30px;width:15.93px"></i><span class="v up" style="left:884.75px;letter-spacing:0.057px">+0.76%</span></li>
<li class="r" style="top:742.61px"><span class="n" style="left:15.71px;letter-spacing:1.094px">Utilities</span><span class="t" style="left:196.40px;width:680.80px"></span><i class="b up" style="left:536.30px;width:7.48px"></i><span class="v up" style="left:884.75px;letter-spacing:0.057px">+0.33%</span></li>
<li class="r" style="top:767.43px"><span class="n" style="left:16.05px;letter-spacing:1.001px">Consumer Staples</span><span class="t" style="left:196.40px;width:680.80px"></span><i class="b dn" style="left:533.55px;width:3.75px"></i><span class="v dn" style="left:884.82px;letter-spacing:-0.128px">-0.14%</span></li>
<li class="r" style="top:792.25px"><span class="n" style="left:15.65px;letter-spacing:1.068px">Real Estate</span><span class="t" style="left:196.40px;width:680.80px"></span><i class="b dn" style="left:520.58px;width:16.72px"></i><span class="v dn" style="left:884.82px;letter-spacing:0.352px">-0.80%</span></li>
<li class="r" style="top:817.07px"><span class="n" style="left:15.65px;letter-spacing:1.165px">Medical</span><span class="t" style="left:196.40px;width:680.80px"></span><i class="b dn" style="left:518.23px;width:19.07px"></i><span class="v dn" style="left:884.82px;letter-spacing:0.352px">-0.92%</span></li>
<li class="r" style="top:841.89px"><span class="n" style="left:15.65px;letter-spacing:0.942px">Miners</span><span class="t" style="left:196.40px;width:680.80px"></span><i class="b dn" style="left:449.08px;width:88.22px"></i><span class="v dn" style="left:884.82px;letter-spacing:0.352px">-4.44%</span></li>
</ul></section>
</main>
</div></div>
</body>
</html>
